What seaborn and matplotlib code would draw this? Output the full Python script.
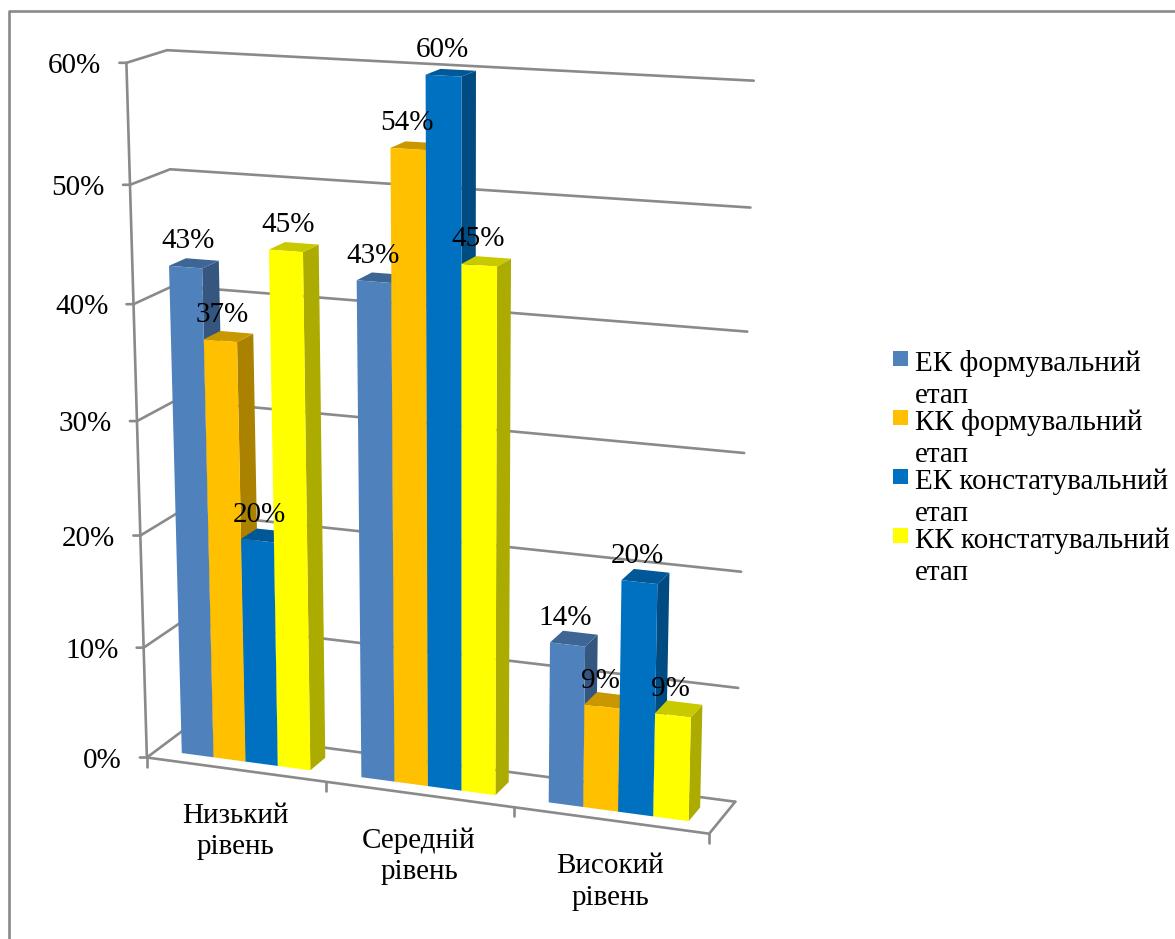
import numpy as np
import pandas as pd
import matplotlib
matplotlib.use("Agg")
import matplotlib.pyplot as plt
from matplotlib.lines import Line2D
from matplotlib.patches import Polygon, Rectangle
from matplotlib.transforms import Affine2D, Transform
import seaborn as sns

# ---- chart values -------------------------------------------------------
levels = ["Низький\nрівень", "Середній\nрівень", "Високий\nрівень"]
stages = ["ЕК формувальний\nетап", "КК формувальний\nетап",
          "ЕК констатувальний\nетап", "КК констатувальний\nетап"]
ek_formative = [43, 43, 14]
kk_formative = [37, 54, 9]
ek_ascertaining = [20, 60, 20]
kk_ascertaining = [45, 45, 9]
value_ticks = [0, 10, 20, 30, 40, 50, 60]

colors = ["#4F81BD", "#FFC000", "#0070C0", "#FFFF00"]
grid_color = "#8A8A8A"

W, H = 1175, 939
FONT = 21
LINE_SPACING = 1.28
Z_FRONT, Z_BACK = 0.27, 0.70
GROUP_WIDTH = 0.72
LABEL_DX = [2.0, -1.0, -2.0]
LABEL_DY = -26

sns.set_theme(style="white")
plt.rcParams["font.family"] = ["Liberation Serif", "DejaVu Serif"]

# ---- camera: box coordinates (category, value, depth) to image pixels ----
box_ref = [
    (-0.5, 0, 0, 147, 757), (-0.5, 60, 0, 127, 63), (-0.5, 50, 0, 130, 184),
    (-0.5, 40, 0, 134, 304), (-0.5, 60, 1, 167, 50), (-0.5, 50, 1, 169, 170),
    (-0.5, 0, 1, 185, 729), (2.5, 60, 1, 753, 81), (2.5, 50, 1, 750, 207),
    (2.5, 40, 1, 748, 332), (2.5, 30, 1, 745, 453), (2.5, 20, 1, 742, 572),
    (2.5, 10, 1, 738, 688), (2.5, 0, 1, 735, 801), (2.5, 0, 0, 709, 833),
    (0.5, 0, 0, 326, 783), (1.5, 0, 0, 513, 808),
]


def fit_camera(refs):
    rows = []
    for x, y, z, u, v in refs:
        # scale value axis so that the solve is well conditioned
        p = [x, y / 10.0, z, 1.0]
        rows.append(p + [0, 0, 0, 0] + [-u * c for c in p])
        rows.append([0, 0, 0, 0] + p + [-v * c for c in p])
    return np.linalg.svd(np.array(rows, float))[2][-1].reshape(3, 4)


CAM = fit_camera(box_ref)


def project(x, y, z):
    x, y, z = np.broadcast_arrays(np.asarray(x, float), np.asarray(y, float), np.asarray(z, float))
    pts = np.stack([x, y / 10.0, z, np.ones_like(x)], axis=-1) @ CAM.T
    return pts[..., :2] / pts[..., 2:]


class PlaneProjection(Transform):
    """Maps (category, value) on a plane of constant depth to image pixels."""
    input_dims = output_dims = 2
    is_separable = False
    has_inverse = False

    def __init__(self, plane_z):
        super().__init__()
        self.plane_z = plane_z

    def transform_non_affine(self, values):
        values = np.asarray(values, float)
        return project(values[:, 0], values[:, 1], self.plane_z)


def shade(color, factor):
    rgb = np.array(matplotlib.colors.to_rgb(color))
    return tuple(rgb * factor)


# ---- figure and bars ----------------------------------------------------
df = pd.DataFrame({
    "level": np.repeat(levels, 4),
    "stage": stages * 3,
    "value": [s[i] for i in range(3) for s in (ek_formative, kk_formative, ek_ascertaining, kk_ascertaining)],
})

fig = plt.figure(figsize=(W / 100, H / 100), dpi=100, facecolor="white")
ax = fig.add_axes([0, 0, 1, 1])
sns.barplot(data=df, x="level", y="value", hue="stage", hue_order=stages, order=levels,
            palette=colors, width=GROUP_WIDTH, gap=0, saturation=1, legend=False, ax=ax)
ax.axis("off")

pixels = Affine2D().scale(1, -1).translate(0, H)


def line(points, **kw):
    pts = np.asarray(points)
    ax.add_line(Line2D(pts[:, 0], pts[:, 1], color=grid_color, lw=1.9, transform=pixels,
                       clip_on=False, zorder=0.5, solid_capstyle="round", **kw))


# page frame
line([(9, H), (9, 11), (W, 11)])

# walls, floor and axes
X0, X1 = -0.5, 2.5
for tick in value_ticks:
    corner_front = project(X0, tick, 0)
    line([corner_front - (7, 0), corner_front, project(X0, tick, 1), project(X1, tick, 1)])
line([project(X0, 0, 0), project(X0, value_ticks[-1], 0)])
line([project(X0, 0, 0), project(X1, 0, 0), project(X1, 0, 1)])
for x in np.arange(X0, X1 + 0.5):
    base = project(x, 0, 0)
    line([base, base + (0, 9)])

# value axis and category labels
for tick in value_ticks:
    u, v = project(X0, tick, 0)
    ax.text(u - 25, v + 3, f"{tick}%", ha="right", va="center", fontsize=FONT,
            transform=pixels, color="black", zorder=50)
for i, name in enumerate(levels):
    u, v = project(i, 0, 0)
    ax.text(u, v + 62, name, ha="center", va="center", fontsize=FONT, linespacing=LINE_SPACING,
            transform=pixels, color="black", zorder=50)

# give each seaborn bar its perspective front face plus a side and a top face
bars = sorted((b for c in ax.containers for b in c), key=lambda b: b.get_x())
front = PlaneProjection(Z_FRONT) + pixels
for n, bar in enumerate(bars):
    x0, x1, val = bar.get_x(), bar.get_x() + bar.get_width(), bar.get_height()
    color = bar.get_facecolor()
    bar.set_transform(front)
    bar.set_clip_on(False)
    bar.set_linewidth(0)
    bar.set_zorder(10 + n * 3 + 2)

    side = project([x1, x1, x1, x1], [0, 0, val, val], [Z_FRONT, Z_BACK, Z_BACK, Z_FRONT])
    top = project([x0, x1, x1, x0], [val] * 4, [Z_FRONT, Z_FRONT, Z_BACK, Z_BACK])
    ax.add_patch(Polygon(side, closed=True, facecolor=shade(color, 0.67), lw=0, transform=pixels,
                         clip_on=False, zorder=10 + n * 3))
    ax.add_patch(Polygon(top, closed=True, facecolor=shade(color, 0.79), lw=0, transform=pixels,
                         clip_on=False, zorder=10 + n * 3 + 1))

    cat = int(round((x0 + x1) / 2))
    u, v = project((x0 + x1) / 2, val, Z_FRONT)
    ax.text(u + LABEL_DX[cat], v + LABEL_DY, f"{val:.0f}%", ha="center", va="center", fontsize=FONT,
            transform=pixels, color="black", zorder=60)

# legend
for i, (stage, color) in enumerate(zip(stages, colors)):
    y = 351 + 59 * i
    ax.add_patch(Rectangle((893, y), 15, 15, facecolor=color, lw=0, transform=pixels, clip_on=False))
    ax.text(915, y + 52, stage, ha="left", va="baseline", fontsize=FONT, linespacing=LINE_SPACING,
            transform=pixels, color="black", zorder=50)

fig.savefig("out.png", dpi=100, facecolor="white")
